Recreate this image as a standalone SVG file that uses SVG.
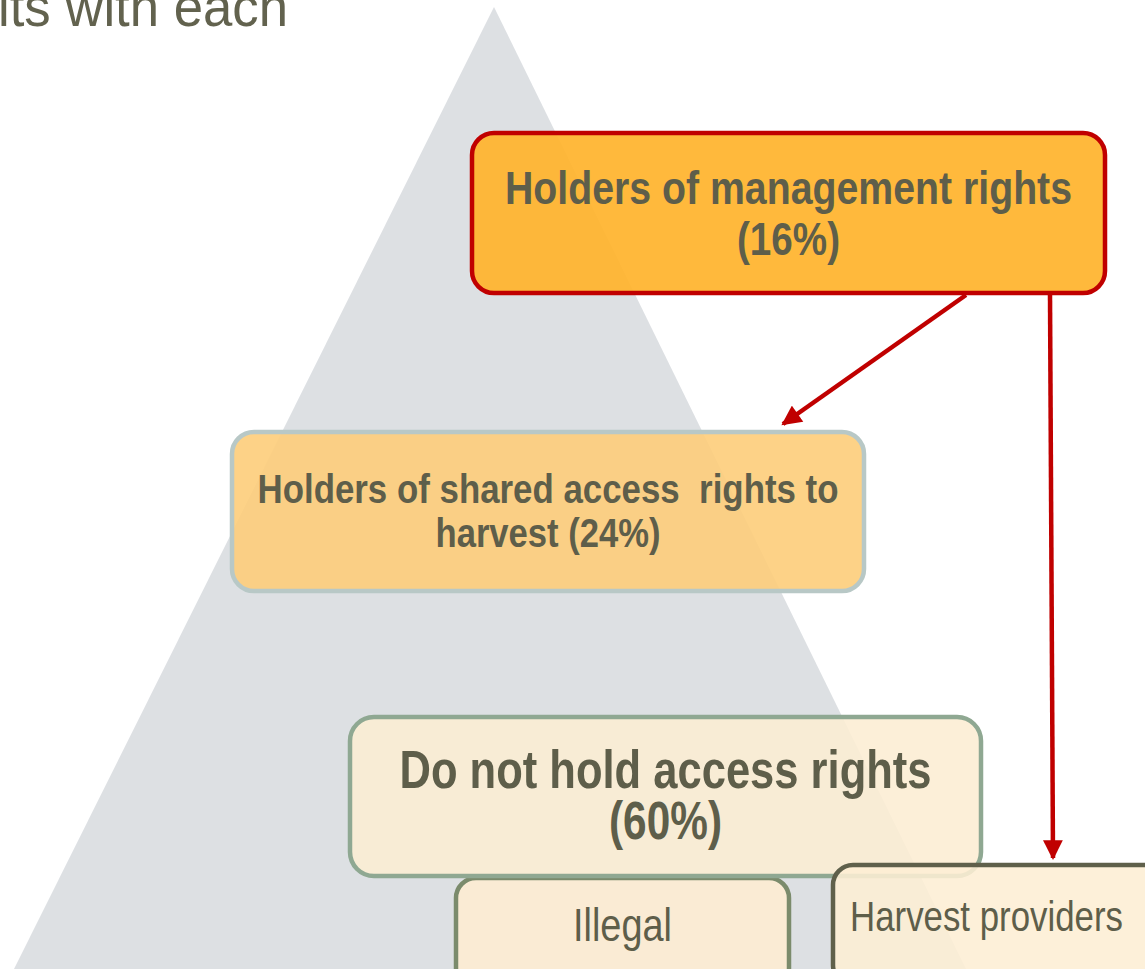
<svg xmlns="http://www.w3.org/2000/svg" width="1145" height="969" viewBox="0 0 1145 969">
  <style>
    .lbl { font-family: "Liberation Sans Narrow", "Liberation Sans", Arial, sans-serif; fill: #5e5e4a; text-anchor: middle; }
    .b { font-weight: bold; }
    .box { stroke-width: 4.5; }
    .link { stroke: #c00000; stroke-width: 4.5; fill: none; }
  </style>
  <defs>
    <marker id="head" viewBox="0 0 10 10" refX="9" refY="5" markerWidth="4.6" markerHeight="4.4" markerUnits="strokeWidth" orient="auto">
      <path d="M0,0 L10,5 L0,10 z" fill="#c00000"/>
    </marker>
  </defs>

  <rect width="1145" height="969" fill="#ffffff"/>

  <!-- backdrop pyramid -->
  <polygon points="494,7 14,969 966,969" fill="#dde0e3"/>

  <!-- heading fragment, clipped at the top-left edge -->
  <text x="-2" y="26" font-family="'Liberation Sans Narrow', 'Liberation Sans', Arial, sans-serif" font-size="56" fill="#62624e" textLength="290" lengthAdjust="spacingAndGlyphs">its with each</text>

  <g id="node-management">
    <rect class="box" x="472" y="133" width="633" height="160" rx="22" fill="#ffb32b" fill-opacity="0.92" stroke="#c00000"/>
    <text class="lbl b" x="788.5" y="204" font-size="47" textLength="567" lengthAdjust="spacingAndGlyphs">Holders of management rights</text>
    <text class="lbl b" x="788.5" y="255" font-size="47" textLength="103" lengthAdjust="spacingAndGlyphs">(16%)</text>
  </g>

  <g id="node-shared">
    <rect class="box" x="232" y="432" width="632" height="159" rx="22" fill="#fdcd7a" fill-opacity="0.9" stroke="#b8c8c6"/>
    <text class="lbl b" x="548" y="503" font-size="40" textLength="581" lengthAdjust="spacingAndGlyphs" xml:space="preserve">Holders of shared access  rights to</text>
    <text class="lbl b" x="548" y="547" font-size="40" textLength="225" lengthAdjust="spacingAndGlyphs">harvest (24%)</text>
  </g>

  <g id="node-illegal">
    <rect class="box" x="456" y="878" width="333" height="110" rx="20" fill="#fcecd3" fill-opacity="0.92" stroke="#7b8b6c"/>
    <text class="lbl" x="622.5" y="941" font-size="46" textLength="99" lengthAdjust="spacingAndGlyphs">Illegal</text>
  </g>

  <g id="node-no-rights">
    <rect class="box" x="350" y="717" width="631" height="159" rx="24" fill="#fcedd3" fill-opacity="0.88" stroke="#8fa892"/>
    <text class="lbl b" x="665.5" y="788" font-size="53" textLength="532" lengthAdjust="spacingAndGlyphs">Do not hold access rights</text>
    <text class="lbl b" x="665.5" y="839" font-size="53" textLength="113" lengthAdjust="spacingAndGlyphs">(60%)</text>
  </g>

  <g id="node-harvest-providers">
    <rect class="box" x="833" y="865" width="330" height="120" rx="20" fill="#fdeed4" fill-opacity="0.88" stroke="#5f604b"/>
    <text class="lbl" x="986.5" y="931" font-size="42" textLength="273" lengthAdjust="spacingAndGlyphs">Harvest providers</text>
  </g>

  <g id="connectors">
    <line class="link" x1="966" y1="295" x2="783" y2="424" marker-end="url(#head)"/>
    <line class="link" x1="1050" y1="295" x2="1053" y2="858" marker-end="url(#head)"/>
  </g>
</svg>
